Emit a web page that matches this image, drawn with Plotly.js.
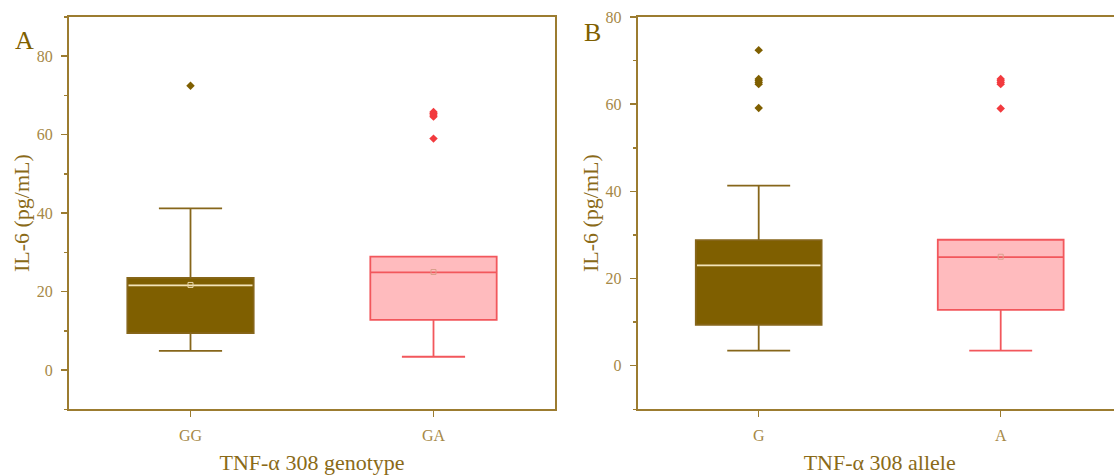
<!DOCTYPE html>
<html>
<head>
<meta charset="utf-8">
<script src="https://cdn.plot.ly/plotly-3.0.1.min.js"></script>
<style>
html,body{margin:0;padding:0;overflow:hidden;background:#fff;}
#chart{width:1130px;height:475px;}
</style>
</head>
<body>
<div id="chart"></div>
<script>
// ---- Panel A: genotype ----
const catsA = ['GG', 'GA'];
const q1A = [9.4, 12.8];
const medA = [21.6, 24.9];
const q3A = [23.5, 28.9];
const lowA = [4.9, 3.4];
const highA = [41.2, 28.9];
const meanA = [21.7, 25.0];
const outA = [[72.5], [59.0, 64.6, 65.0, 65.4, 65.8]];

// ---- Panel B: allele ----
const catsB = ['G', 'A'];
const q1B = [9.4, 12.8];
const medB = [23.0, 24.9];
const q3B = [28.8, 28.9];
const lowB = [3.45, 3.45];
const highB = [41.3, 28.9];
const meanB = [null, 25.0];
const outB = [[59.1, 64.6, 65.0, 65.4, 65.8, 72.4], [59.0, 64.6, 65.0, 65.4, 65.8]];

const BROWN = '#7F5F00';
const BROWN_LINE = '#86661A';
const PINK_FILL = '#FFBBBE';
const PINK_LINE = '#F2575C';
const RED_PT = '#F23A3E';
const AXIS = '#9C7C30';
const TICKTXT = '#A68846';
const TITLETXT = '#8A6A18';
const FONT = 'Liberation Serif, Times New Roman, serif';
const BOXW = 0.52;

const styles = [
  {fill: BROWN, line: BROWN_LINE, pt: BROWN, median: '#F3E4B6', mean: '#E8D6A8'},
  {fill: PINK_FILL, line: PINK_LINE, pt: RED_PT, median: null, mean: '#D9A08C'}
];

function panel(cats, q1, med, q3, low, high, mean, outs, xa, ya) {
  const traces = [];
  cats.forEach((c, i) => {
    const s = styles[i];
    traces.push({
      type: 'box', xaxis: xa, yaxis: ya, name: c,
      x: [i], q1: [q1[i]], median: [med[i]], q3: [q3[i]],
      lowerfence: [low[i]], upperfence: [high[i]],
      width: BOXW, whiskerwidth: 0.5, boxpoints: false,
      fillcolor: s.fill, line: {color: s.line, width: 1.8},
      hoverinfo: 'skip', showlegend: false
    });
    if (s.median) {
      traces.push({
        type: 'scatter', mode: 'lines', xaxis: xa, yaxis: ya,
        x: [i - BOXW / 2 + 0.005, i + BOXW / 2 - 0.005], y: [med[i], med[i]],
        line: {color: s.median, width: 1.8}, hoverinfo: 'skip', showlegend: false
      });
    }
    if (mean[i] !== null) {
      traces.push({
        type: 'scatter', mode: 'markers', xaxis: xa, yaxis: ya,
        x: [i], y: [mean[i]],
        marker: {symbol: 'square-open', size: 5, color: s.mean, line: {width: 1}},
        hoverinfo: 'skip', showlegend: false
      });
    }
    traces.push({
      type: 'scatter', mode: 'markers', xaxis: xa, yaxis: ya,
      x: outs[i].map(() => i), y: outs[i],
      marker: {symbol: 'diamond', size: 6.5, color: s.pt},
      hoverinfo: 'skip', showlegend: false
    });
  });
  return traces;
}

const data = [].concat(
  panel(catsA, q1A, medA, q3A, lowA, highA, meanA, outA, 'x', 'y'),
  panel(catsB, q1B, medB, q3B, lowB, highB, meanB, outB, 'x2', 'y2')
);

const W = 1130, H = 475;
function xAxis(cats, domain, title, anchor) {
  return {
    domain: domain, anchor: anchor, range: [-0.5, 1.5],
    tickvals: cats.map((c, i) => i), ticktext: cats,
    showline: true, mirror: true, linecolor: AXIS, linewidth: 2,
    ticks: 'outside', ticklen: 6, tickwidth: 1.5, tickcolor: AXIS,
    ticklabelstandoff: 4,
    tickfont: {family: FONT, size: 16, color: TICKTXT},
    showgrid: false, zeroline: false,
    title: {text: title, font: {family: FONT, size: 22, color: TITLETXT}, standoff: 17}
  };
}
function yAxis(range, anchor) {
  return {
    domain: [(H - 409.3) / H, (H - 17) / H], anchor: anchor, range: range,
    tick0: 0, dtick: 20,
    showline: true, mirror: true, linecolor: AXIS, linewidth: 2,
    ticks: 'outside', ticklen: 6, tickwidth: 1.5, tickcolor: AXIS,
    ticklabelstandoff: 5,
    minor: {ticks: 'outside', ticklen: 3, tickwidth: 1.5, tickcolor: AXIS, dtick: 10, tick0: 0, showgrid: false},
    tickfont: {family: FONT, size: 16, color: TICKTXT},
    showgrid: false, zeroline: false,
    title: {text: 'IL-6 (pg/mL)', font: {family: FONT, size: 22, color: TITLETXT}, standoff: 1}
  };
}

const layout = {
  width: W, height: H,
  margin: {l: 0, r: 0, t: 0, b: 0},
  paper_bgcolor: '#fff', plot_bgcolor: '#fff',
  showlegend: false,
  xaxis: xAxis(catsA, [69 / W, 555 / W], 'TNF-α 308 genotype', 'y'),
  yaxis: yAxis([-10, 90], 'x'),
  xaxis2: xAxis(catsB, [637.7 / W, 1121.7 / W], 'TNF-α 308 allele', 'y2'),
  yaxis2: yAxis([-10, 80], 'x2'),
  annotations: [
    {text: 'A', xref: 'paper', yref: 'paper', x: 13 / W, y: (H - 24) / H, xanchor: 'left', yanchor: 'top',
     showarrow: false, font: {family: FONT, size: 26, color: BROWN}},
    {text: 'B', xref: 'paper', yref: 'paper', x: 582 / W, y: (H - 16) / H, xanchor: 'left', yanchor: 'top',
     showarrow: false, font: {family: FONT, size: 26, color: BROWN}}
  ]
};

Plotly.newPlot('chart', data, layout, {displayModeBar: false, staticPlot: true});
</script>
</body>
</html>
